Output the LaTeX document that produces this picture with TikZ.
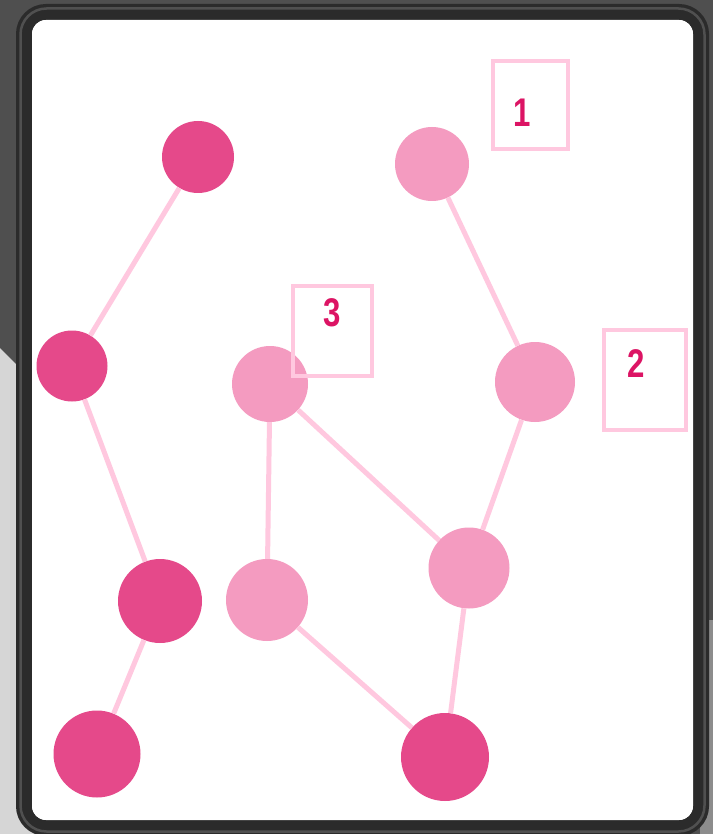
\documentclass[tikz,border=0pt]{standalone}
\usepackage{fontspec}
\setmainfont{Liberation Sans}
\definecolor{bgdark}{HTML}{4F4F4F}
\definecolor{bglight}{HTML}{D6D6D6}
\definecolor{bgmid}{HTML}{8C8C8C}
\definecolor{framec}{HTML}{2B2B2B}
\definecolor{framehi}{HTML}{505050}
\definecolor{deeppink}{HTML}{E5498A}
\definecolor{softpink}{HTML}{F49BC0}
\definecolor{linkpink}{HTML}{FFC8DF}
\definecolor{labelpink}{HTML}{DC1464}
\tikzset{
  darkdot/.style={circle, fill=deeppink, draw=none, inner sep=0pt},
  lightdot/.style={circle, fill=softpink, draw=none, inner sep=0pt},
  link/.style={draw=linkpink, line width=5pt},
  tagbox/.style={draw=linkpink, line width=4pt, fill=none, inner sep=0pt},
  tagtext/.style={text=labelpink, font=\bfseries\fontsize{40}{40}\selectfont, xscale=0.78, inner sep=0pt}
}
\begin{document}
\begin{tikzpicture}[x=1pt,y=-1pt]
\useasboundingbox (0,0) rectangle (713,834);
% backdrop
\fill[bgdark] (0,0) rectangle (713,834);
\fill[bglight] (0,348) -- (486,834) -- (0,834) -- cycle;
\fill[bgmid] (700,620) rectangle (713,834);
% rounded frame with white panel
\draw[framec, line width=16pt, fill=white, rounded corners=22pt] (24,12) rectangle (701,828);
\draw[framehi, line width=2.5pt, rounded corners=26pt] (20.5,8.5) rectangle (704.5,831.5);
\fill[white, rounded corners=14pt] (32,20) rectangle (693,820);

% nodes
\node[darkdot, minimum size=72pt] (a) at (198,157) {};
\node[lightdot, minimum size=74pt] (b) at (432,164) {};
\node[darkdot, minimum size=71pt] (c) at (72,366) {};
\node[lightdot, minimum size=76pt] (d) at (270,384) {};
\node[lightdot, minimum size=80pt] (e) at (535,382) {};
\node[darkdot, minimum size=84pt] (f) at (160,601) {};
\node[lightdot, minimum size=82pt] (g) at (267,600) {};
\node[lightdot, minimum size=81pt] (h) at (469,568) {};
\node[darkdot, minimum size=87pt] (i) at (97,754) {};
\node[darkdot, minimum size=88pt] (j) at (445,757) {};

% links
\draw[link] (a) -- (c);
\draw[link] (c) -- (f);
\draw[link] (f) -- (i);
\draw[link] (b) -- (e);
\draw[link] (e) -- (h);
\draw[link] (h) -- (j);
\draw[link] (d) -- (g);
\draw[link] (d) -- (h);
\draw[link] (g) -- (j);

% numbered tags
\node[tagbox, minimum width=75pt, minimum height=88pt] (t1) at (530.5,105) {};
\node[tagbox, minimum width=82pt, minimum height=100pt] (t2) at (645,380) {};
\node[tagbox, minimum width=79pt, minimum height=90pt] (t3) at (332.5,331) {};
\node[tagtext] (n1) at (522,113) {1};
\node[tagtext] (n2) at (636,364) {2};
\node[tagtext] (n3) at (332,313) {3};
\end{tikzpicture}
\end{document}
